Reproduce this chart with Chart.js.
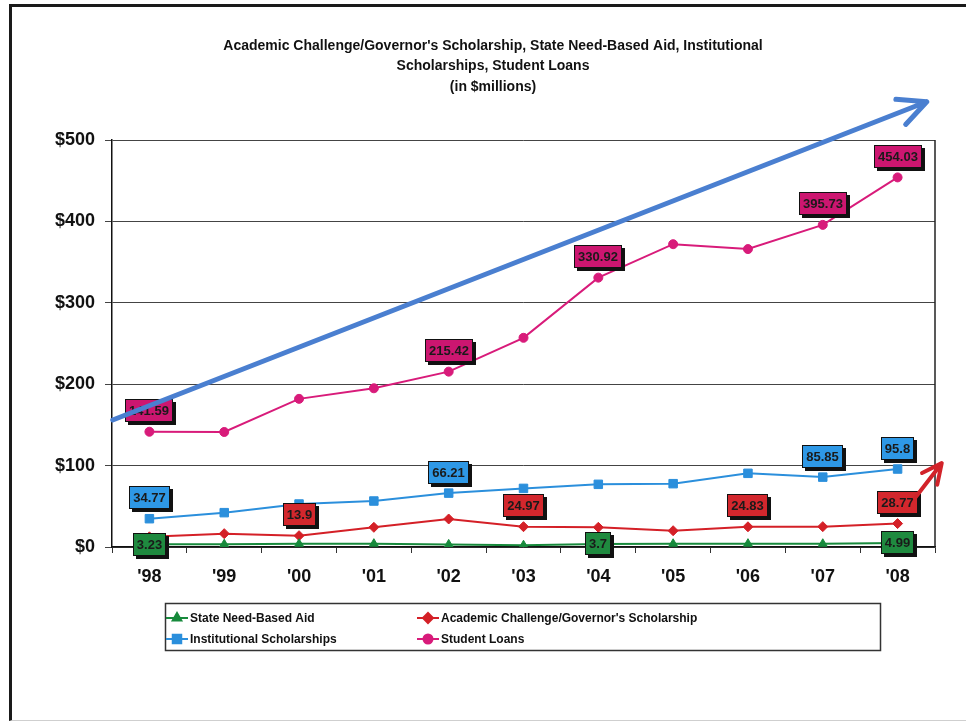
<!DOCTYPE html>
<html>
<head>
<meta charset="utf-8">
<script src="https://cdn.jsdelivr.net/npm/chart.js@4.4.1/dist/chart.umd.min.js"></script>
<style>
html, body { margin: 0; padding: 0; background: #fff; }
#wrap { position: relative; width: 966px; height: 723px; overflow: hidden; }
#frame { position: absolute; left: 9px; top: 4px; width: 970px; height: 717px; box-sizing: border-box;
  border-top: 3px solid #1a1a1a; border-left: 3px solid #1a1a1a; border-bottom: 1px solid #cfcfcf; pointer-events: none; }
</style>
</head>
<body>
<div id="wrap">
  <canvas id="chart" width="966" height="723"></canvas>
  <div id="frame"></div>
</div>
<script>
// values ($ millions)
const years = ["'98", "'99", "'00", "'01", "'02", "'03", "'04", "'05", "'06", "'07", "'08"];
const stateAid = [3.23, 3.5, 4.0, 4.1, 3.2, 2.2, 3.7, 4.0, 4.1, 4.0, 4.99];
const academic = [12.5, 16.4, 13.9, 24.2, 34.4, 24.97, 24.2, 20.0, 24.83, 25.0, 28.77];
const institutional = [34.77, 42.2, 52.8, 56.5, 66.21, 72.0, 77.0, 77.8, 90.5, 85.85, 95.8];
const loans = [141.59, 141.3, 182.0, 195.0, 215.42, 257.0, 330.92, 372.0, 366.0, 395.73, 454.03];
const yTicks = [0, 100, 200, 300, 400, 500];

// which points carry a value box
const stateBoxed = [0, 6, 10];
const academicBoxed = [2, 5, 8, 10];
const institutionalBoxed = [0, 4, 9, 10];
const loansBoxed = [0, 4, 6, 9, 10];

// hand drawn arrows, in [category index, value]
const blueArrow = [[-0.49, 156], [10.39, 547]];
const redArrow = [[10.23, 60], [10.59, 103]];

const titleLines = [
  "Academic Challenge/Governor's Scholarship, State Need-Based Aid, Institutional",
  "Scholarships, Student Loans",
  "(in $millions)"
];

const FONT = '"Liberation Sans", Arial, sans-serif';

function arrow(ctx, x0, y0, x1, y1, color, width, head) {
  const a = Math.atan2(y1 - y0, x1 - x0);
  ctx.save();
  ctx.strokeStyle = color;
  ctx.lineWidth = width;
  ctx.lineCap = 'round';
  ctx.lineJoin = 'round';
  ctx.beginPath();
  ctx.moveTo(x0, y0);
  ctx.lineTo(x1, y1);
  ctx.moveTo(x1 - head * Math.cos(a - 0.45), y1 - head * Math.sin(a - 0.45));
  ctx.lineTo(x1, y1);
  ctx.lineTo(x1 - head * Math.cos(a + 0.45), y1 - head * Math.sin(a + 0.45));
  ctx.stroke();
  ctx.restore();
}

const extras = {
  id: 'extras',
  beforeDatasetsDraw(chart) {
    const { ctx, chartArea } = chart;
    ctx.save();
    ctx.strokeStyle = '#222';
    ctx.lineWidth = 1.5;
    ctx.beginPath();
    ctx.moveTo(chartArea.right, chartArea.top);
    ctx.lineTo(chartArea.right, chartArea.bottom);
    ctx.stroke();
    ctx.restore();
  },
  afterDatasetsDraw(chart) {
    const ctx = chart.ctx;
    ctx.save();
    ctx.font = 'bold 13px ' + FONT;
    ctx.textAlign = 'center';
    ctx.textBaseline = 'middle';
    chart.data.datasets.forEach((ds, i) => {
      const meta = chart.getDatasetMeta(i);
      ds.boxed.forEach(idx => {
        const pt = meta.data[idx];
        const txt = String(ds.data[idx]);
        const w = Math.round(ctx.measureText(txt).width) + 8, h = 23;
        const cy = ds.boxAt === 'center' ? pt.y : pt.y - 21;
        const x0 = Math.round(pt.x - w / 2), y0 = Math.round(cy - h / 2);
        ctx.fillStyle = '#111';
        ctx.fillRect(x0 + 3, y0 + 3, w, h);
        ctx.fillStyle = ds.boxColor;
        ctx.fillRect(x0, y0, w, h);
        ctx.strokeStyle = '#111';
        ctx.lineWidth = 1;
        ctx.strokeRect(x0 + 0.5, y0 + 0.5, w - 1, h - 1);
        ctx.fillStyle = '#1a1a1a';
        ctx.fillText(txt, x0 + w / 2, y0 + h / 2 + 1);
      });
    });
    ctx.restore();
  },
  afterDraw(chart) {
    const ctx = chart.ctx;
    const xs = chart.scales.x, ys = chart.scales.y;

    // title
    ctx.save();
    ctx.fillStyle = '#111';
    ctx.font = 'bold 14px ' + FONT;
    ctx.textAlign = 'center';
    ctx.textBaseline = 'middle';
    titleLines.forEach((t, i) => ctx.fillText(t, 493, 46 + i * 20.5));
    ctx.restore();

    // legend box
    ctx.save();
    ctx.strokeStyle = '#333';
    ctx.lineWidth = 1.5;
    ctx.strokeRect(165.5, 603.5, 715, 47);
    const cols = [166, 417], rows = [618, 639];
    ctx.font = 'bold 12px ' + FONT;
    ctx.textBaseline = 'middle';
    chart.data.datasets.forEach((ds, i) => {
      const x = cols[i % 2], y = rows[Math.floor(i / 2)];
      ctx.strokeStyle = ds.borderColor;
      ctx.lineWidth = 2;
      ctx.beginPath();
      ctx.moveTo(x, y);
      ctx.lineTo(x + 22, y);
      ctx.stroke();
      ctx.fillStyle = ds.backgroundColor;
      ctx.strokeStyle = ds.borderColor;
      Chart.helpers.drawPoint(ctx, { pointStyle: ds.pointStyle, rotation: 0, radius: ds.pointRadius, borderWidth: 1 }, x + 11, y);
      ctx.fillStyle = '#111';
      ctx.fillText(ds.label, x + 24, y + 1);
    });
    ctx.restore();

    // hand drawn arrows
    const px = p => [xs.getPixelForValue(p[0]), ys.getPixelForValue(p[1])];
    const b0 = px(blueArrow[0]), b1 = px(blueArrow[1]);
    arrow(ctx, b0[0], b0[1], b1[0], b1[1], '#4a7fd0', 5, 31);
    const r0 = px(redArrow[0]), r1 = px(redArrow[1]);
    arrow(ctx, r0[0], r0[1], r1[0], r1[1], '#d2232a', 4, 22);
  }
};

new Chart(document.getElementById('chart'), {
  type: 'line',
  data: {
    labels: years,
    datasets: [
      { label: 'State Need-Based Aid', data: stateAid, borderColor: '#178a3c', backgroundColor: '#178a3c',
        pointStyle: 'triangle', pointRadius: 5, boxed: stateBoxed, boxAt: 'center', boxColor: '#1f8a3f' },
      { label: "Academic Challenge/Governor's Scholarship", data: academic, borderColor: '#d42027', backgroundColor: '#d42027',
        pointStyle: 'rectRot', pointRadius: 5, boxed: academicBoxed, boxAt: 'above', boxColor: '#d3272d' },
      { label: 'Institutional Scholarships', data: institutional, borderColor: '#2b8fdc', backgroundColor: '#2b8fdc',
        pointStyle: 'rect', pointRadius: 6, boxed: institutionalBoxed, boxAt: 'above', boxColor: '#2e98e6' },
      { label: 'Student Loans', data: loans, borderColor: '#d81b7a', backgroundColor: '#d81b7a',
        pointStyle: 'circle', pointRadius: 4.5, boxed: loansBoxed, boxAt: 'above', boxColor: '#cc1670' }
    ]
  },
  options: {
    responsive: false,
    devicePixelRatio: 1,
    animation: false,
    layout: { padding: { left: 0, right: 31, top: 140, bottom: 126 } },
    elements: { line: { borderWidth: 2, tension: 0 }, point: { borderWidth: 1, hoverRadius: 5 } },
    plugins: { legend: { display: false }, title: { display: false }, tooltip: { enabled: false } },
    scales: {
      x: {
        offset: true,
        afterFit: s => { s.height = 50; },
        grid: { display: true, drawOnChartArea: false, offset: true, tickLength: 6, color: '#333', lineWidth: 1 },
        border: { color: '#111', width: 1.5 },
        ticks: { color: '#111', padding: 13, font: { family: FONT, size: 18, weight: 'bold' } }
      },
      y: {
        min: 0, max: 500,
        afterFit: s => { s.width = 112; },
        afterBuildTicks: s => { s.ticks = yTicks.map(v => ({ value: v })); },
        grid: { color: '#444', lineWidth: 1, tickLength: 7 },
        border: { color: '#111', width: 1.5 },
        ticks: { color: '#111', padding: 10, font: { family: FONT, size: 18, weight: 'bold' }, callback: v => '$' + v }
      }
    }
  },
  plugins: [extras]
});
</script>
</body>
</html>
